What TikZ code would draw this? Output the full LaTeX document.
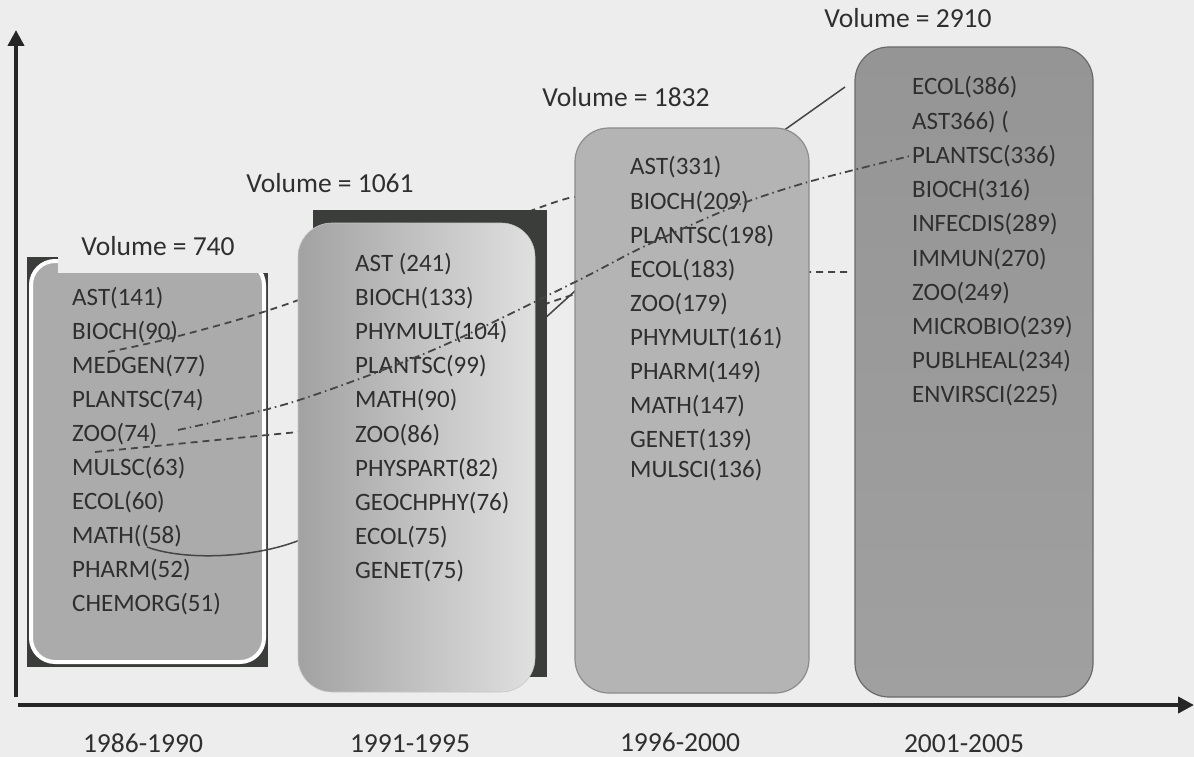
\documentclass[tikz,border=0pt]{standalone}
\usepackage{fontspec}
\setmainfont{Carlito}
\usetikzlibrary{arrows.meta}
\definecolor{bg}{HTML}{EDEDED}
\definecolor{ink}{HTML}{2F2F2F}
\definecolor{axisc}{HTML}{262626}
\definecolor{shadowc}{HTML}{3A3D3A}
\definecolor{fillA}{HTML}{ABABAB}
\definecolor{fillBd}{HTML}{A2A2A2}
\definecolor{fillBl}{HTML}{E0E0E0}
\definecolor{fillC}{HTML}{B4B4B4}
\definecolor{edgeC}{HTML}{8C8C8C}
\definecolor{fillDt}{HTML}{959595}
\definecolor{fillDb}{HTML}{A0A0A0}
\definecolor{edgeD}{HTML}{6A6A6A}
\definecolor{linec}{HTML}{454545}
\begin{document}
\begin{tikzpicture}[x=1pt,y=-1pt,
  item/.style={anchor=base west, inner sep=0pt, text=ink, font=\fontsize{25}{30}\selectfont},
  vol/.style={anchor=base, inner sep=0pt, text=ink, font=\fontsize{27.5}{32}\selectfont},
  yr/.style={vol},
  period/.style={inner sep=0pt, rounded corners=34pt},
  link/.style={line width=1.8pt, draw=linec},
  dashlink/.style={link, dash pattern=on 7pt off 5pt},
  dotlink/.style={link, dash pattern=on 8pt off 4pt on 1.5pt off 4pt},
  axisline/.style={line width=4.5pt, draw=axisc, -{Triangle[width=16pt,length=16pt]}},
]
\useasboundingbox (0,0) rectangle (1194,757);
\fill[bg] (0,0) rectangle (1194,757);

% ---- period 1 box
\fill[shadowc] (27,257) rectangle (268,667);
\node[period, rounded corners=24pt, draw=white, line width=4pt, fill=fillA,
      minimum width=233pt, minimum height=401pt] (box1) at (147.5,461.5) {};
\fill[bg] (58,245) rectangle (270,273);
\node[vol] (vol1) at (158,255) {Volume = 740};

% ---- connectors running behind later boxes
\coordinate (aS) at (108,352);
\coordinate (aE) at (575,197);
\draw[dashlink] plot[smooth, tension=0.5] coordinates {(aS) (175,337) (293,302) (533,210) (aE)};

\coordinate (cS) at (147,547);
\coordinate (cE) at (845,87);
\draw[link, line width=1.5pt] (cS) .. controls (185,561) and (255,558) .. (300,540) -- (575,291) -- (783,131) -- (cE);

\coordinate (dS) at (95,452);
\coordinate (dE) at (848,272);
\draw[dashlink] (dS) -- (298,432) -- (548,303) -- (575,294) -- (809,272) -- (dE);

% ---- period 2 box
\fill[shadowc] (313,210) rectangle (547,677);
\node[period, draw=gray!45, line width=0.6pt, left color=fillBd, right color=fillBl,
      minimum width=237pt, minimum height=469pt] (box2) at (416.5,457.5) {};
\node[vol] (vol2) at (330,193) {Volume = 1061};

% ---- period 3 box
\node[period, draw=edgeC, line width=1.2pt, fill=fillC,
      minimum width=234pt, minimum height=565pt] (box3) at (692,410.5) {};
\node[vol] (vol3) at (626,107) {Volume = 1832};

% ---- period 4 box
\node[period, draw=edgeD, line width=1.2pt, top color=fillDt, bottom color=fillDb,
      minimum width=238pt, minimum height=650pt] (box4) at (974,372) {};
\node[vol] (vol4) at (908,28) {Volume = 2910};

% ---- lists
\foreach \t [count=\i from 0] in {AST(141),BIOCH(90),MEDGEN(77),PLANTSC(74),ZOO(74),MULSC(63),ECOL(60),MATH((58),PHARM(52),CHEMORG(51)}
  \node[item] (pa\i) at (72,305+34.1*\i) {\t};
\foreach \t [count=\i from 0] in {AST (241),BIOCH(133),PHYMULT(104),PLANTSC(99),MATH(90),ZOO(86),PHYSPART(82),GEOCHPHY(76),ECOL(75),GENET(75)}
  \node[item] (pb\i) at (355,271+34.2*\i) {\t};
\foreach \t [count=\i from 0] in {AST(331),BIOCH(209),PLANTSC(198),ECOL(183),ZOO(179),PHYMULT(161),PHARM(149),MATH(147),GENET(139)}
  \node[item] (pc\i) at (630,175+34.1*\i) {\t};
\node[item] (pc9) at (630,477) {MULSCI(136)};
\foreach \t [count=\i from 0] in {ECOL(386),AST366) (,PLANTSC(336),BIOCH(316),INFECDIS(289),IMMUN(270),ZOO(249),MICROBIO(239),PUBLHEAL(234),ENVIRSCI(225)}
  \node[item] (pd\i) at (912,95+34.2*\i) {\t};

% ---- dash-dot connector on top
\coordinate (bS) at (178,430);
\coordinate (bE) at (910,156);
\draw[dotlink] plot[smooth, tension=0.5] coordinates {(bS) (293,402) (433,350) (573,283) (643,247) (733,207) (808,182) (bE)};

% ---- axes
\draw[axisline] (16,697) -- (16,30);
\draw[axisline] (18,705) -- (1194,705);

% ---- period labels
\node[yr] (y1) at (143,752) {1986-1990};
\node[yr] (y2) at (410,752) {1991-1995};
\node[yr] (y3) at (680,751) {1996-2000};
\node[yr] (y4) at (964,752) {2001-2005};
\end{tikzpicture}
\end{document}
